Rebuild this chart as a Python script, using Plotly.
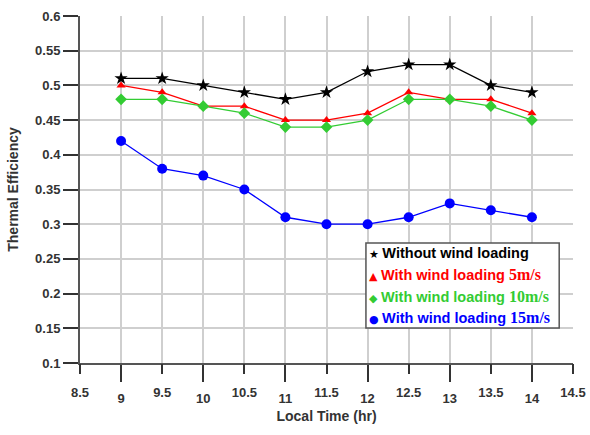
import plotly.graph_objects as go

# Local time (hr) and thermal efficiency for each wind loading case
hours = [9, 9.5, 10, 10.5, 11, 11.5, 12, 12.5, 13, 13.5, 14]
eff_no_wind = [0.51, 0.51, 0.50, 0.49, 0.48, 0.49, 0.52, 0.53, 0.53, 0.50, 0.49]
eff_wind_5 = [0.50, 0.49, 0.47, 0.47, 0.45, 0.45, 0.46, 0.49, 0.48, 0.48, 0.46]
eff_wind_10 = [0.48, 0.48, 0.47, 0.46, 0.44, 0.44, 0.45, 0.48, 0.48, 0.47, 0.45]
eff_wind_15 = [0.42, 0.38, 0.37, 0.35, 0.31, 0.30, 0.30, 0.31, 0.33, 0.32, 0.31]

int_ticks = [9, 10, 11, 12, 13, 14]
half_ticks = [8.5, 9.5, 10.5, 11.5, 12.5, 13.5, 14.5]
y_ticks = [0.1, 0.15, 0.2, 0.25, 0.3, 0.35, 0.4, 0.45, 0.5, 0.55, 0.6]

# label prefix, speed suffix, values, colour, marker, size, key glyph
series = [
    ("Without wind loading", "", eff_no_wind, "black", "star", 10, "★"),
    ("With wind loading ", "5m/s", eff_wind_5, "red", "triangle-up", 8, "▲"),
    ("With wind loading ", "10m/s", eff_wind_10, "#33cc33", "diamond", 9, "◆"),
    ("With wind loading ", "15m/s", eff_wind_15, "blue", "circle", 10, "●"),
]

fig = go.Figure()
for label, speed, vals, color, symbol, size, glyph in series:
    fig.add_trace(go.Scatter(
        x=hours, y=vals, mode="lines+markers", name=label + speed,
        showlegend=False,
        line=dict(color=color, width=1.3),
        marker=dict(symbol=symbol, size=size, color=color),
    ))

# Half-hour ticks drawn on an overlaid axis so their labels sit higher
fig.add_trace(go.Scatter(x=[8.5, 14.5], y=[None, None], xaxis="x2",
                         showlegend=False, hoverinfo="skip"))

# Key box in the lower right of the plot
box_x0, box_x1, box_y0, box_y1 = 0.580, 0.972, 0.101, 0.346
fig.add_shape(type="rect", xref="paper", yref="paper",
              x0=box_x0, x1=box_x1, y0=box_y0, y1=box_y1,
              line=dict(color="#555555", width=1.5), fillcolor="white", layer="above")
row_y = [0.317, 0.256, 0.193, 0.132]
for (label, speed, vals, color, symbol, size, glyph), yy in zip(series, row_y):
    text = (f"<span style='font-family:DejaVu Sans;font-size:11px'>{glyph} </span>"
            f"<b>{label}</b>")
    if speed:
        text += f"<span style='font-family:Liberation Serif;font-size:16px'><b>{speed}</b></span>"
    fig.add_annotation(xref="paper", yref="paper", x=box_x0 + 0.002, y=yy,
                       xanchor="left", yanchor="middle", showarrow=False,
                       text=text, font=dict(size=14.5, color=color,
                                            family="Liberation Sans, Arial"))

axis_font = dict(family="Liberation Sans, Arial", size=13, color="#333333")
grid = "#cfcfcf"
fig.update_layout(
    width=590, height=435,
    margin=dict(l=80, r=17, t=16, b=72),
    paper_bgcolor="white", plot_bgcolor="white",
    font=dict(family="Liberation Sans, Arial", color="#333333"),
    xaxis=dict(
        range=[8.5, 14.5], tickvals=int_ticks,
        ticktext=[f"<b>{v}</b>" for v in int_ticks],
        ticks="outside", ticklen=17, tickwidth=1.5, tickcolor="#333333",
        ticklabelstandoff=5,
        showline=True, linecolor="#555555", linewidth=2,
        showgrid=True, gridcolor=grid, gridwidth=1.5,
        tickfont=axis_font, automargin=False,
        title=dict(text="<b>Local Time (hr)</b>", font=dict(size=14, color="#333333"), standoff=7),
        zeroline=False,
    ),
    xaxis2=dict(
        range=[8.5, 14.5], overlaying="x", side="bottom",
        tickvals=half_ticks, ticktext=[f"<b>{v}</b>" for v in half_ticks],
        ticks="outside", ticklen=10, tickwidth=1.5, tickcolor="#333333",
        ticklabelstandoff=7,
        showgrid=True, gridcolor=grid, gridwidth=1.5, automargin=False,
        showline=False, tickfont=axis_font, zeroline=False,
    ),
    yaxis=dict(
        range=[0.1, 0.6], tickvals=y_ticks,
        ticktext=[f"<b>{v:g}</b>" for v in y_ticks],
        ticks="outside", ticklen=15, tickwidth=1.5, tickcolor="#333333",
        showline=True, linecolor="#555555", linewidth=2,
        showgrid=True, gridcolor=grid, gridwidth=1.5,
        tickfont=axis_font, automargin=False,
        title=dict(text="<b>Thermal Efficiency</b>", font=dict(size=14, color="#333333"), standoff=13),
        zeroline=False,
    ),
)

fig.write_html("out.html")
